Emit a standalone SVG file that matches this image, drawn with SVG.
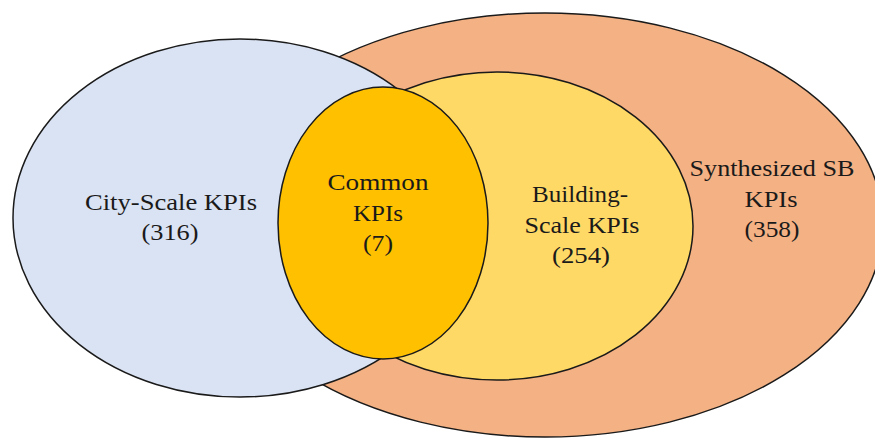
<svg xmlns="http://www.w3.org/2000/svg" width="875" height="439" viewBox="0 0 875 439">
  <style>
    .set { stroke: #1a1a1a; stroke-width: 1.5; }
    .lbl { font-family: "Liberation Serif", "Times New Roman", serif; font-size: 24px; fill: #1a1a1a; text-anchor: middle; }
  </style>
  <rect width="875" height="439" fill="#ffffff"/>

  <!-- Synthesized SB KPIs (outer set) -->
  <g id="synthesized">
    <ellipse class="set" cx="545" cy="225" rx="338" ry="212" fill="#F4B183"/>
  </g>

  <!-- City-scale KPIs -->
  <g id="city-scale">
    <ellipse class="set" cx="240" cy="218" rx="227" ry="179" fill="#DAE3F3"/>
  </g>

  <!-- Building-scale KPIs -->
  <g id="building-scale">
    <ellipse class="set" cx="497" cy="226" rx="196" ry="154" fill="#FFD966"/>
  </g>

  <!-- Common KPIs (overlap) -->
  <g id="common">
    <ellipse class="set" cx="383" cy="223" rx="105" ry="136" fill="#FFC000"/>
  </g>

  <g id="connectors"/>

  <!-- Labels -->
  <g id="labels">
    <text class="lbl" x="171" y="210" textLength="172" lengthAdjust="spacingAndGlyphs">City-Scale KPIs</text>
    <text class="lbl" x="170" y="240" textLength="57" lengthAdjust="spacingAndGlyphs">(316)</text>

    <text class="lbl" x="378" y="190" textLength="101" lengthAdjust="spacingAndGlyphs">Common</text>
    <text class="lbl" x="378" y="221" textLength="50" lengthAdjust="spacingAndGlyphs">KPIs</text>
    <text class="lbl" x="378" y="251" textLength="30" lengthAdjust="spacingAndGlyphs">(7)</text>

    <text class="lbl" x="580" y="202" textLength="96" lengthAdjust="spacingAndGlyphs">Building-</text>
    <text class="lbl" x="582" y="233" textLength="115" lengthAdjust="spacingAndGlyphs">Scale KPIs</text>
    <text class="lbl" x="581" y="263" textLength="58" lengthAdjust="spacingAndGlyphs">(254)</text>

    <text class="lbl" x="772" y="176" textLength="165" lengthAdjust="spacingAndGlyphs">Synthesized SB</text>
    <text class="lbl" x="771" y="207" textLength="53" lengthAdjust="spacingAndGlyphs">KPIs</text>
    <text class="lbl" x="772" y="237" textLength="55" lengthAdjust="spacingAndGlyphs">(358)</text>
  </g>
</svg>
